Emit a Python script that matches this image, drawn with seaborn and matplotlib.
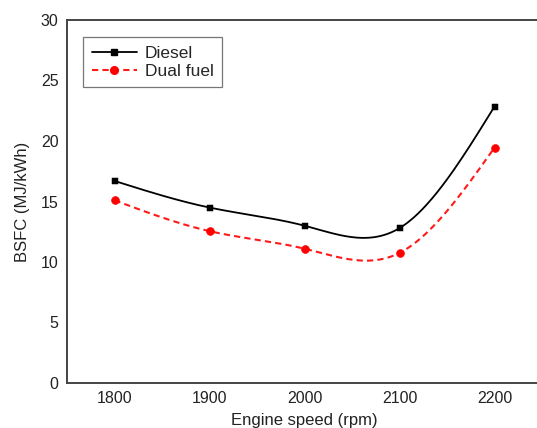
import numpy as np
import pandas as pd
import matplotlib
matplotlib.use("Agg")
import matplotlib.pyplot as plt
from matplotlib.lines import Line2D
import seaborn as sns

speed = [1800, 1900, 2000, 2100, 2200]
diesel = [16.7, 14.5, 13.0, 12.8, 22.85]
dual_fuel = [15.1, 12.55, 11.1, 10.75, 19.45]
series_names = ["Diesel", "Dual fuel"]


def natural_spline(x, y, n=200):
    x = np.asarray(x, float)
    y = np.asarray(y, float)
    k = len(x)
    h = np.diff(x)
    A = np.zeros((k, k))
    b = np.zeros(k)
    A[0, 0] = 1
    A[-1, -1] = 1
    for i in range(1, k - 1):
        A[i, i - 1] = h[i - 1]
        A[i, i] = 2 * (h[i - 1] + h[i])
        A[i, i + 1] = h[i]
        b[i] = 6 * ((y[i + 1] - y[i]) / h[i] - (y[i] - y[i - 1]) / h[i - 1])
    M = np.linalg.solve(A, b)
    xs = np.linspace(x[0], x[-1], n)
    ys = np.empty_like(xs)
    for j, xv in enumerate(xs):
        i = min(np.searchsorted(x, xv, side="right") - 1, k - 2)
        t1 = x[i + 1] - xv
        t0 = xv - x[i]
        ys[j] = (M[i] * t1 ** 3 / (6 * h[i]) + M[i + 1] * t0 ** 3 / (6 * h[i])
                 + (y[i] / h[i] - M[i] * h[i] / 6) * t1
                 + (y[i + 1] / h[i] - M[i + 1] * h[i] / 6) * t0)
    return xs, ys


sns.set_style("white")
plt.rcParams["font.family"] = ["Liberation Sans", "DejaVu Sans"]

fig = plt.figure(figsize=(5.37, 4.28), dpi=100)
ax = fig.add_axes([67 / 537, 1 - 383 / 428, (542 - 67) / 537, (383 - 20) / 428])

xs, ys = natural_spline(speed, diesel)
sns.lineplot(x=xs, y=ys, ax=ax, color="black", lw=1.3, sort=False)
xs2, ys2 = natural_spline(speed, dual_fuel)
sns.lineplot(x=xs2, y=ys2, ax=ax, color="#ff1a1a", lw=1.5, sort=False,
             linestyle=(0, (3, 2)))

sns.scatterplot(x=speed, y=diesel, ax=ax, marker="s", s=20, color="black",
                edgecolor="black", zorder=5)
sns.scatterplot(x=speed, y=dual_fuel, ax=ax, marker="o", s=32, color="#ff0000",
                edgecolor="#ff0000", zorder=5)

ax.set_xlim(1750, 2250)
ax.set_ylim(0, 30)
ax.set_xticks(speed)
ax.set_yticks([0, 5, 10, 15, 20, 25, 30])
ax.tick_params(length=0, labelsize=11.5, colors="#222222", pad=6)
ax.set_xlabel("Engine speed (rpm)", fontsize=12, color="#222222", labelpad=5)
ax.set_ylabel("BSFC (MJ/kWh)", fontsize=12, color="#222222", labelpad=8)
for side in ["left", "bottom", "top"]:
    ax.spines[side].set_color("#444444")
    ax.spines[side].set_linewidth(1.4)
ax.spines["right"].set_visible(False)

handles = [
    Line2D([], [], color="black", lw=1.3, marker="s", markersize=4.5),
    Line2D([], [], color="#ff1a1a", lw=1.5, linestyle=(0, (3, 2)), marker="o",
           markersize=5.5, markerfacecolor="#ff0000", markeredgecolor="#ff0000"),
]
leg = ax.legend(handles, series_names, loc="upper left",
                bbox_to_anchor=((83 - 67) / 475, 1 - (37 - 20) / 363),
                fontsize=12.5, frameon=True, fancybox=False, handlelength=2.6,
                borderpad=0.5, labelspacing=0.15, handletextpad=0.45,
                borderaxespad=0)
leg.get_frame().set_edgecolor("#555555")
leg.get_frame().set_linewidth(0.9)

fig.savefig("out.png", dpi=100)
